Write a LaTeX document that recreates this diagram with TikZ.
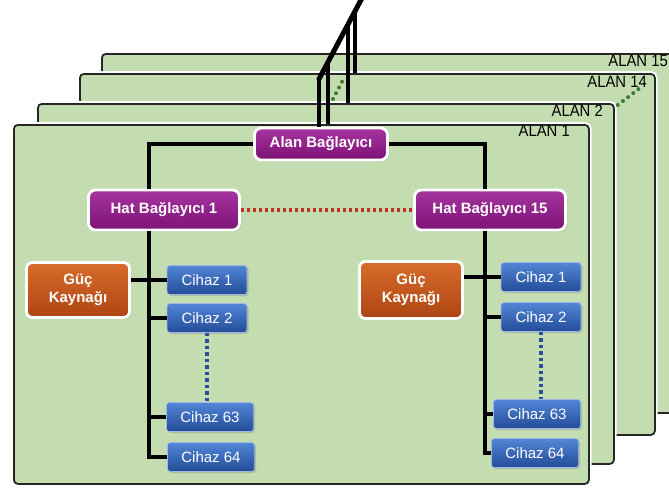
\documentclass[tikz,border=0pt]{standalone}
\usepackage{fontspec}
\usepackage{graphicx}
\setmainfont{Liberation Sans}
\usetikzlibrary{calc,shadows}
\definecolor{panelgreen}{HTML}{C3DDB1}
\definecolor{panelline}{HTML}{262626}
\definecolor{swtop}{HTML}{A6359F}
\definecolor{swbot}{HTML}{7D1276}
\definecolor{pwtop}{HTML}{D86C2C}
\definecolor{pwbot}{HTML}{AE4512}
\definecolor{devtop}{HTML}{5286D6}
\definecolor{devbot}{HTML}{234C98}
\definecolor{devline}{HTML}{9DB8E6}
\definecolor{linkred}{HTML}{BF3326}
\definecolor{linkblue}{HTML}{2D4E9C}
\definecolor{linkgreen}{HTML}{3F7B33}

\newcommand{\alantext}[1]{\scalebox{0.9}[1]{#1}}

\tikzset{
  panel/.style={draw=panelline, line width=1.8pt, fill=panelgreen, rounded corners=4pt,
    drop shadow={shadow xshift=2pt, shadow yshift=-2pt, opacity=0.3},
    preaction={draw=white, line width=5.5pt}, anchor=north west, inner sep=0pt},
  alanlbl/.style={anchor=east, inner sep=0pt, text=black, font=\fontsize{16.5}{16.5}\selectfont},
  switchbox/.style={draw=white, line width=2.8pt, top color=swtop, bottom color=swbot,
    rounded corners=7pt, text=white, font=\fontsize{15}{17}\selectfont\bfseries,
    drop shadow={shadow xshift=1.5pt, shadow yshift=-1.5pt, opacity=0.35}},
  powerbox/.style={draw=white, line width=2.8pt, top color=pwtop, bottom color=pwbot,
    rounded corners=6pt, text=white, align=center, font=\fontsize{15}{18}\selectfont\bfseries,
    minimum width=103pt, minimum height=55pt,
    drop shadow={shadow xshift=1.5pt, shadow yshift=-1.5pt, opacity=0.35}},
  devbox/.style={draw=devline, line width=0.7pt, top color=devtop, bottom color=devbot,
    rounded corners=3pt, text=white, font=\fontsize{15}{17}\selectfont,
    minimum width=80pt, minimum height=29pt, inner xsep=14pt,
    drop shadow={shadow xshift=1.5pt, shadow yshift=-1.5pt, opacity=0.35}},
  wire/.style={draw=black, line width=3.3pt},
  mast/.style={draw=black, line width=5pt},
  drop/.style={draw=black, line width=3.5pt},
  redlink/.style={draw=linkred, line width=3.6pt, dash pattern=on 3.5pt off 2.5pt},
  bluelink/.style={draw=linkblue, line width=3.6pt, dash pattern=on 3.5pt off 3pt},
  greenlink/.style={draw=linkgreen, line width=4pt, line cap=round, dash pattern=on 0pt off 6.5pt}
}

\begin{document}
\begin{tikzpicture}[x=1pt, y=-1pt]
  \useasboundingbox (0,0) rectangle (669,490);

  % Panels, back to front
  \node[panel, minimum width=580pt, minimum height=359pt] (p15) at (101,53) {};
  \node[alanlbl] (l15) at (668,61) {\alantext{ALAN 15}};
  \node[panel, minimum width=575pt, minimum height=361pt] (p14) at (79,73) {};
  \node[alanlbl] (l14) at (647,82) {\alantext{ALAN 14}};
  \node[panel, minimum width=576pt, minimum height=360pt] (p2) at (37,103) {};
  \node[alanlbl] (l2) at (603,111) {\alantext{ALAN 2}};
  \node[panel, minimum width=575pt, minimum height=359pt] (p1) at (13,124) {};
  \node[alanlbl] (l1) at (570,131) {\alantext{ALAN 1}};

  % Nodes
  \node[switchbox, minimum width=133pt, minimum height=32pt] (alan) at (321,144) {Alan Bağlayıcı};
  \node[switchbox, minimum width=151pt, minimum height=40pt] (hat1) at (164,210) {Hat Bağlayıcı 1};
  \node[switchbox, minimum width=151pt, minimum height=40pt] (hat15) at (490,210) {Hat Bağlayıcı 15};

  \node[powerbox] (gucL) at (78,290) {Güç\\Kaynağı};
  \node[powerbox, minimum height=57pt] (gucR) at (411,290) {Güç\\Kaynağı};

  \node[devbox] (c1L) at (207,280) {Cihaz 1};
  \node[devbox] (c2L) at (207,318) {Cihaz 2};
  \node[devbox] (c63L) at (210,417) {Cihaz 63};
  \node[devbox] (c64L) at (211,457) {Cihaz 64};

  \node[devbox] (c1R) at (541,277) {Cihaz 1};
  \node[devbox] (c2R) at (541,317) {Cihaz 2};
  \node[devbox] (c63R) at (537,414) {Cihaz 63};
  \node[devbox] (c64R) at (535,453) {Cihaz 64};

  % Trunks
  \coordinate (tL) at ([xshift=-15pt]hat1.south);
  \coordinate (tR) at ([xshift=-5pt]hat15.south);
  \draw[wire] (alan.west) -| ([xshift=-15pt]hat1.north);
  \draw[wire] (alan.east) -| ([xshift=-5pt]hat15.north);
  \draw[wire] (tL) |- (c64L.west);
  \draw[wire] (tR) |- (c64R.west);
  \foreach \n in {c2L,c63L}
    \draw[wire] (\n.west) -- (\n.west -| tL);
  \foreach \n in {c2R,c63R}
    \draw[wire] (\n.west) -- (\n.west -| tR);
  \draw[wire] (gucL.east |- c1L.west) -- (c1L.west);
  \draw[wire] (gucR.east |- c1R.west) -- (c1R.west);

  % Dotted links
  \draw[redlink] (hat1.east) -- (hat15.west);
  \draw[bluelink] (c2L.south) -- (c2L.south |- c63L.north);
  \draw[bluelink] (c2R.south) -- (c2R.south |- c63R.north);

  % Antenna
  \coordinate (anttop) at (362,-2);
  \coordinate (antbot) at (319,79);
  \path (anttop) -- (antbot) coordinate[pos=0.163] (j15) coordinate[pos=0.326] (j14)
    coordinate[pos=0.791] (j2);
  \draw[drop] (antbot) -- (antbot |- alan.north);
  \draw[drop] (j2) -- (j2 |- p1.north);
  \draw[drop] (j14) -- (j14 |- p2.north);
  \draw[drop] (j15) -- (j15 |- p14.north);
  \draw[mast, line cap=round] (anttop) -- (antbot);

  \coordinate (gd1) at (333,99);
  \coordinate (gd2) at (345,76);
  \draw[greenlink] (gd1) -- (gd2);
  \draw[greenlink] ([shift={(3pt,-2pt)}]p2.north east) -- ([xshift=-7pt]l14.south east);
\end{tikzpicture}
\end{document}
